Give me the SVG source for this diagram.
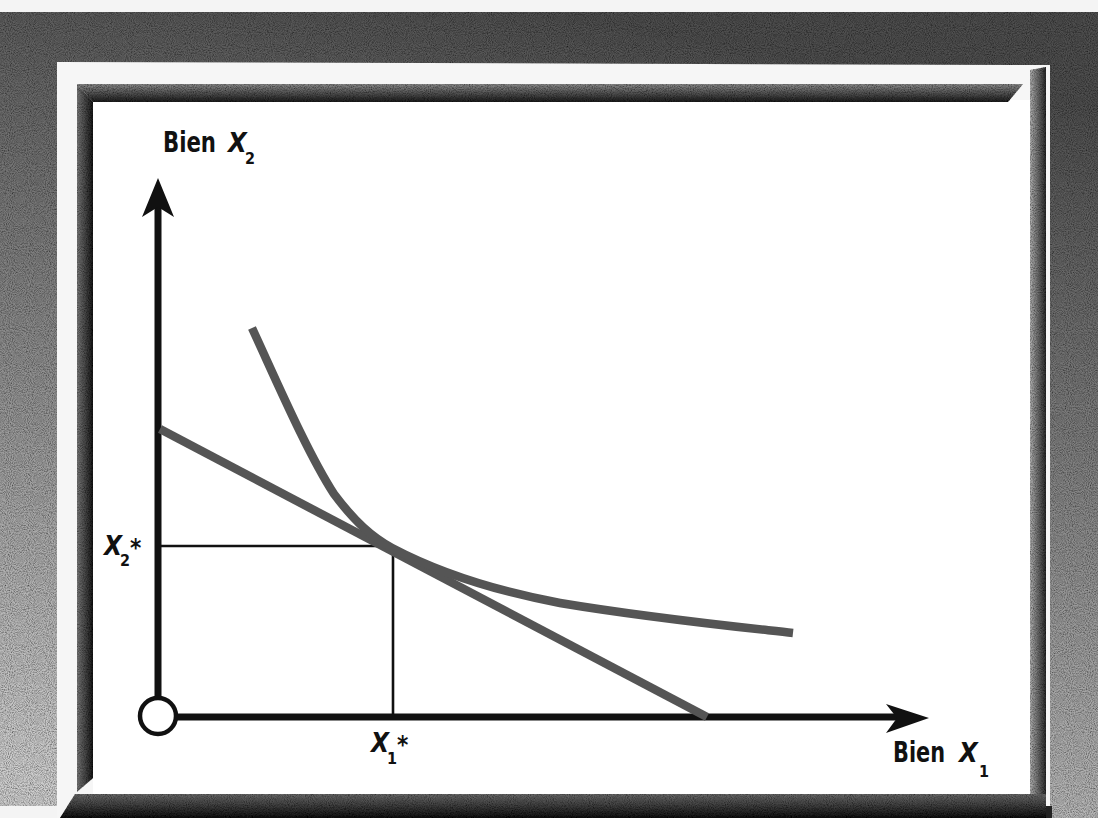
<svg xmlns="http://www.w3.org/2000/svg" width="1098" height="818" viewBox="0 0 1098 818">
<defs>
<linearGradient id="bg" x1="0.5" y1="0" x2="0.25" y2="1">
<stop offset="0" stop-color="#505050"/>
<stop offset="0.45" stop-color="#868686"/>
<stop offset="1" stop-color="#cfcfcf"/>
</linearGradient>
<linearGradient id="topBand" x1="0" y1="0" x2="0" y2="1">
<stop offset="0" stop-color="#8a8a8a"/>
<stop offset="1" stop-color="#1e1e1e"/>
</linearGradient>
<linearGradient id="leftBand" x1="0" y1="0" x2="1" y2="0">
<stop offset="0" stop-color="#7a7a7a"/>
<stop offset="1" stop-color="#1a1a1a"/>
</linearGradient>
<linearGradient id="rightBand" x1="0" y1="0" x2="1" y2="0">
<stop offset="0" stop-color="#b0b0b0"/>
<stop offset="1" stop-color="#2a2a2a"/>
</linearGradient>
<linearGradient id="botBand" x1="0" y1="0" x2="0" y2="1">
<stop offset="0" stop-color="#6a6a6a"/>
<stop offset="1" stop-color="#141414"/>
</linearGradient>
<filter id="grain" x="0" y="0" width="100%" height="100%">
<feTurbulence type="fractalNoise" baseFrequency="0.95" numOctaves="2" seed="3" result="n"/>
<feColorMatrix in="n" type="matrix" values="0 0 0 0 0  0 0 0 0 0  0 0 0 0 0  0 0 0 1.4 -0.45" result="a"/>
<feComposite in="a" in2="SourceGraphic" operator="in" result="g"/>
<feMerge><feMergeNode in="SourceGraphic"/><feMergeNode in="g"/></feMerge>
</filter>
<style>
.lbl{font-family:"Liberation Sans Narrow","DejaVu Sans Condensed","Liberation Sans",sans-serif;font-weight:bold;fill:#111}
.it{font-style:italic}
.axis{stroke:#111;stroke-width:7;fill:none}
.ref{stroke:#111;stroke-width:2.6;fill:none}
.curve{stroke:#555;stroke-width:8.5;fill:none;stroke-linecap:butt}
.head{fill:#111}
</style>
</defs>
<!-- background -->
<rect x="0" y="0" width="1098" height="818" fill="#f4f4f4"/>
<rect x="0" y="12" width="1098" height="806" fill="url(#bg)" filter="url(#grain)"/>
<rect x="0" y="806" width="57" height="12" fill="#f4f4f4"/>
<!-- frame -->
<g id="frame">
<polygon points="57,62 1050,65 1050,818 57,818" fill="#f6f6f6"/>
<rect x="93" y="100" width="938" height="694" fill="#ffffff"/>
<polygon points="77,84 1023,84 1008,102 93,102" fill="url(#topBand)" filter="url(#grain)"/>
<polygon points="77,84 93,102 93,778 77,792" fill="url(#leftBand)" filter="url(#grain)"/>
<polygon points="1030,70 1046,67 1046,806 1030,794" fill="url(#rightBand)" filter="url(#grain)"/>
<polygon points="60,818 75,794 1046,794 1046,818" fill="url(#botBand)" filter="url(#grain)"/>
<rect x="1046" y="806" width="6" height="12" fill="#222"/>
</g>
<!-- connectors / lines -->
<g id="connectors">
<line class="ref" x1="161" y1="546" x2="391" y2="546"/>
<line class="ref" x1="393" y1="546" x2="393" y2="716"/>
<line class="axis" x1="158" y1="204" x2="158" y2="699"/>
<line class="axis" x1="175" y1="717" x2="898" y2="717"/>
<polygon class="head" points="158,178 174,217 158,207 142,217"/>
<polygon class="head" points="929,718 886,704 897,718 886,733"/>
</g>
<g id="budget-line">
<line class="curve" x1="160" y1="429" x2="707" y2="717"/>
</g>
<g id="indifference-curve">
<path class="curve" d="M252,328 C277,382 307,452 334,494 C355,522 372,537 392,548 C430,568 480,588 560,603 C650,618 730,626 793,633"/>
</g>
<g id="origin">
<circle cx="158" cy="716" r="18" fill="#fff" stroke="#111" stroke-width="4.5"/>
</g>
<!-- labels -->
<g id="label-y">
<text class="lbl" x="163" y="152" font-size="29" textLength="53" lengthAdjust="spacingAndGlyphs">Bien</text>
<text class="lbl it" x="228" y="152" font-size="27">X</text>
<text class="lbl" x="245" y="164" font-size="16">2</text>
</g>
<g id="label-x">
<text class="lbl" x="893" y="762" font-size="29" textLength="52" lengthAdjust="spacingAndGlyphs">Bien</text>
<text class="lbl it" x="959" y="762" font-size="27">X</text>
<text class="lbl" x="979" y="777" font-size="16">1</text>
</g>
<g id="label-x2star">
<text class="lbl it" x="104" y="555" font-size="26">X</text>
<text class="lbl" x="120" y="566" font-size="16">2</text>
<text class="lbl" x="130" y="556" font-size="24">*</text>
</g>
<g id="label-x1star">
<text class="lbl it" x="371" y="752" font-size="26">X</text>
<text class="lbl" x="387" y="764" font-size="16">1</text>
<text class="lbl" x="397" y="753" font-size="24">*</text>
</g>
</svg>
